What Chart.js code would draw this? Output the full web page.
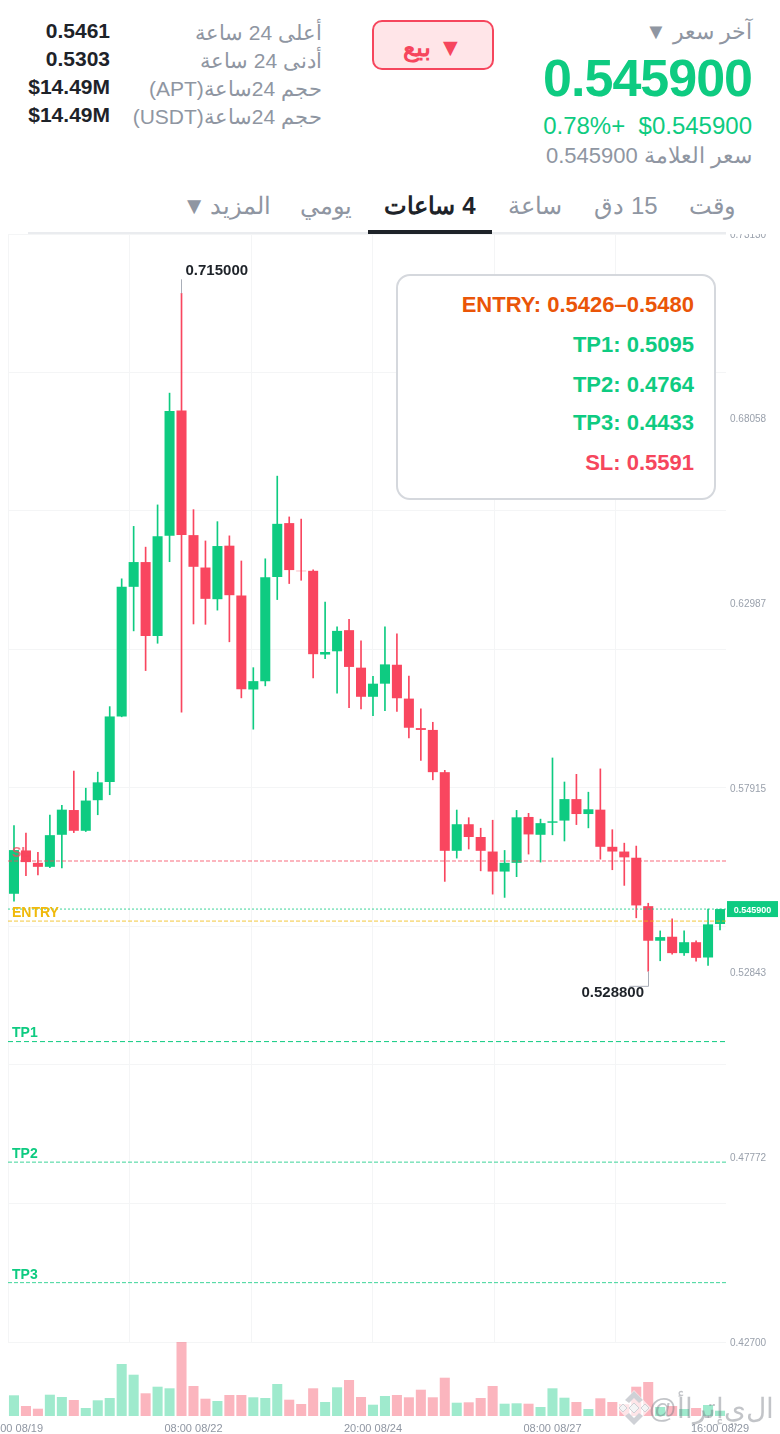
<!DOCTYPE html>
<html lang="ar">
<head>
<meta charset="utf-8">
<title>APT 4h</title>
<script src="https://cdn.jsdelivr.net/npm/chart.js@4/dist/chart.umd.min.js"></script>
<style>
  html, body { margin: 0; padding: 0; background: #fff; }
  body { position: relative; width: 780px; height: 1434px; overflow: hidden; font-family: "Liberation Sans", Arial, sans-serif; }
  canvas { position: absolute; left: 0; display: block; }
  #priceChart { top: 234px; }
  #volumeChart { top: 1342px; }
  .t { position: absolute; white-space: pre; line-height: 30px; }
  .rtl { direction: rtl; }
  .gray { color: #8f96a2; font-size: 22px; }
  .stat { font-size: 21px; right: 458px; }
  .val { color: #1e2329; font-size: 21px; font-weight: bold; right: 670px; }
  .tab { color: #8f96a2; font-size: 24px; transform: translateX(-50%); top: 191px; }
  #sell { position: absolute; left: 372px; top: 20px; width: 118px; height: 46px; border: 2px solid #f6465d; border-radius: 10px; background: #ffe5e8;
    color: #f6465d; font-size: 25px; font-weight: bold; text-align: center; line-height: 50px; direction: rtl; }
  #tabLine { position: absolute; left: 28px; top: 232px; width: 698px; height: 2px; background: #eaecef; }
  #tabActive { position: absolute; left: 368px; top: 230px; width: 124px; height: 4px; background: #1e2329; }
  #box { position: absolute; left: 396px; top: 274px; width: 316px; height: 222px; border: 2px solid #d5d8dd; border-radius: 14px; background: #fff; }
  .boxRow { position: absolute; right: 20px; font-size: 22px; font-weight: bold; line-height: 30px; white-space: pre; }
  #mark { position: absolute; right: 6px; top: 1391px; color: rgba(110,115,125,.42); font-size: 28px; line-height: 36px; direction: rtl; white-space: pre; }
  #logo { position: absolute; left: 616px; top: 1389px; }
</style>
</head>
<body>
<div class="t gray rtl" style="right:28px;top:17px">آخر سعر ▼</div>
<div class="t" style="right:28px;top:48px;line-height:60px;font-size:52px;font-weight:bold;letter-spacing:-1px;color:#0ecb81">0.545900</div>
<div class="t rtl" style="right:28px;top:111px;font-size:24px;color:#0ecb81">$0.545900&nbsp;&nbsp;+0.78%</div>
<div class="t gray rtl" style="right:28px;top:141px">سعر العلامة 0.545900</div>

<div id="sell">▼ بيع</div>

<div class="t gray stat rtl" style="top:18px">أعلى 24 ساعة</div>
<div class="t gray stat rtl" style="top:46px">أدنى 24 ساعة</div>
<div class="t gray stat rtl" style="top:74px">حجم 24ساعة(APT)</div>
<div class="t gray stat rtl" style="top:102px">حجم 24ساعة(USDT)</div>
<div class="t val" style="top:16px">0.5461</div>
<div class="t val" style="top:44px">0.5303</div>
<div class="t val" style="top:72px">$14.49M</div>
<div class="t val" style="top:100px">$14.49M</div>

<div class="t tab rtl" style="left:712px">وقت</div>
<div class="t tab rtl" style="left:626px">15 دق</div>
<div class="t tab rtl" style="left:535px">ساعة</div>
<div class="t tab rtl" style="left:430px;color:#1e2329;font-weight:bold">4 ساعات</div>
<div class="t tab rtl" style="left:326px">يومي</div>
<div class="t tab rtl" style="left:226.5px">المزيد <span style="margin-right:-3px">▼</span></div>
<div id="tabLine"></div>
<div id="tabActive"></div>

<canvas id="priceChart" width="780" height="1116"></canvas>
<canvas id="volumeChart" width="780" height="92"></canvas>

<div id="box">
  <div class="boxRow" style="top:14px;color:#ea5508">ENTRY: 0.5426–0.5480</div>
  <div class="boxRow" style="top:54px;color:#0ecb81">TP1: 0.5095</div>
  <div class="boxRow" style="top:94px;color:#0ecb81">TP2: 0.4764</div>
  <div class="boxRow" style="top:132px;color:#0ecb81">TP3: 0.4433</div>
  <div class="boxRow" style="top:172px;color:#f6465d">SL: 0.5591</div>
</div>

<svg id="logo" width="36" height="38" viewBox="0 0 36 38">
  <path d="M18 1 L35 19 L18 37 L1 19 Z" fill="rgba(255,255,255,.65)"/>
  <path d="M9 11 L18 2 L27 11 L23 14 L18 9 L13 14 Z" fill="#cfd1d6"/>
  <path d="M9 27 L18 36 L27 27 L23 24 L18 29 L13 24 Z" fill="#cfd1d6"/>
  <path d="M7 15 L11 19 L7 23 L3 19 Z M18 14 L23 19 L18 24 L13 19 Z M29 15 L33 19 L29 23 L25 19 Z" fill="#f4f4f5" stroke="#cfd1d6"/>
</svg>
<div id="mark">ال&zwnj;ي&zwnj;إ&zwnj;تراأ@</div>

<script>
const candleTimes = [
  "20:00 08/19",
  "00:00 08/20", "04:00 08/20", "08:00 08/20", "12:00 08/20", "16:00 08/20", "20:00 08/20",
  "00:00 08/21", "04:00 08/21", "08:00 08/21", "12:00 08/21", "16:00 08/21", "20:00 08/21",
  "00:00 08/22", "04:00 08/22", "08:00 08/22", "12:00 08/22", "16:00 08/22", "20:00 08/22",
  "00:00 08/23", "04:00 08/23", "08:00 08/23", "12:00 08/23", "16:00 08/23", "20:00 08/23",
  "00:00 08/24", "04:00 08/24", "08:00 08/24", "12:00 08/24", "16:00 08/24", "20:00 08/24",
  "00:00 08/25", "04:00 08/25", "08:00 08/25", "12:00 08/25", "16:00 08/25", "20:00 08/25",
  "00:00 08/26", "04:00 08/26", "08:00 08/26", "12:00 08/26", "16:00 08/26", "20:00 08/26",
  "00:00 08/27", "04:00 08/27", "08:00 08/27", "12:00 08/27", "16:00 08/27", "20:00 08/27",
  "00:00 08/28", "04:00 08/28", "08:00 08/28", "12:00 08/28", "16:00 08/28", "20:00 08/28",
  "00:00 08/29", "04:00 08/29", "08:00 08/29", "12:00 08/29", "16:00 08/29"
];
const shownTimes = ["20:00 08/19", "08:00 08/22", "20:00 08/24", "08:00 08/27", "16:00 08/29"];

const opens = [
  .5501, .5620, .5586, .5575, .5663, .5731, .5674, .5758, .5808, .5988,
  .6344, .6412, .6209, .6484, .6828, .6486, .6397, .6310, .6457, .6320,
  .6062, .6085, .6371, .6519, .6388, .6388, .6158, .6167, .6225, .6122,
  .6042, .6078, .6130, .6037, .5956, .5951, .5835, .5619, .5692, .5657,
  .5617, .5562, .5586, .5712, .5663, .5696, .5702, .5761, .5720, .5732,
  .5630, .5617, .5600, .5467, .5372, .5383, .5338, .5368, .5326, .5418
];
const closes = [
  .5621, .5588, .5575, .5662, .5732, .5674, .5757, .5807, .5988, .6344,
  .6412, .6209, .6483, .6827, .6486, .6399, .6311, .6456, .6321, .6063,
  .6085, .6370, .6517, .6390, .6387, .6159, .6165, .6223, .6124, .6042,
  .6078, .6131, .6038, .5957, .5951, .5835, .5619, .5692, .5657, .5619,
  .5562, .5586, .5711, .5664, .5695, .5700, .5761, .5720, .5733, .5630,
  .5617, .5601, .5469, .5372, .5382, .5338, .5368, .5325, .5417, .5459
];
const highs = [
  .5688, .5668, .5615, .5717, .5744, .5838, .5791, .5835, .6015, .6366,
  .6510, .6453, .6569, .6876, .7150, .6556, .6470, .6523, .6484, .6415,
  .6122, .6421, .6648, .6536, .6530, .6391, .6302, .6234, .6255, .6196,
  .6098, .6234, .6215, .6099, .6009, .5972, .5840, .5731, .5710, .5681,
  .5703, .5620, .5730, .5722, .5706, .5874, .5808, .5829, .5780, .5844,
  .5677, .5640, .5632, .5475, .5399, .5432, .5399, .5372, .5459, .5459
];
const lows = [
  .5481, .5551, .5553, .5573, .5572, .5669, .5672, .5718, .5773, .5987,
  .6223, .6114, .6189, .6413, .6000, .6242, .6241, .6280, .6193, .6039,
  .5953, .6072, .6309, .6353, .6362, .6094, .6147, .6052, .6012, .6009,
  .5990, .6004, .6002, .5929, .5867, .5814, .5535, .5599, .5624, .5564,
  .5500, .5491, .5548, .5610, .5588, .5663, .5646, .5691, .5682, .5596,
  .5567, .5524, .5435, .5288, .5317, .5335, .5332, .5316, .5304, .5402
];
const volumes = [
  20.7, 10, 7.3, 21.3, 19, 16, 8, 15.7, 18, 52,
  41.3, 22.7, 29.3, 27.7, 74, 30, 17.3, 15, 21, 21,
  18.7, 18, 32, 16.3, 12, 27.7, 14, 28.7, 36, 19,
  11.3, 20, 21, 18.7, 26.3, 18.7, 38.3, 13.3, 13.7, 18,
  30, 12.3, 12.7, 12.3, 9, 27.7, 18.3, 14, 7, 17.7,
  14, 11.7, 29.3, 34, 9, 10, 7, 8, 11, 5.3
];

const priceTicks = [0.7313, 0.68058, 0.62987, 0.57915, 0.52843, 0.47772, 0.427];
const gridPrices = [0.7313, 0.69327, 0.65523, 0.61719, 0.57915, 0.54112, 0.50308, 0.46504, 0.427];
const gridColumns = [0, 1, 2, 3, 4, 5];

const levelNames = ["SL", "ENTRY", "TP1", "TP2", "TP3"];
const levelValues = [0.5591, 0.5426, 0.5095, 0.4764, 0.4433];
const levelColors = ["#f6465d", "#f0b90b", "#0ecb81", "#0ecb81", "#0ecb81"];
const lastPrice = 0.5459;
const highPrice = 0.715;
const lowPrice = 0.5288;

const GREEN = "#0ecb81";
const RED = "#f9465f";
const columnsWide = 5.905;

const isUp = (i) => closes[i] >= opens[i];
const candleColors = opens.map((o, i) => (isUp(i) ? GREEN : RED));
const volumeColors = opens.map((o, i) => (isUp(i) ? "rgba(14,203,129,.4)" : "rgba(246,70,93,.4)"));

function flatLine(value, color, dash) {
  return {
    type: "line",
    xAxisID: "xGrid",
    yAxisID: "y",
    order: 1,
    data: [{ x: 0, y: value }, { x: columnsWide, y: value }],
    borderColor: color,
    borderWidth: 1,
    borderDash: dash,
    pointRadius: 0,
    backgroundColor: "transparent"
  };
}

function noPadding(scale) {
  scale.paddingLeft = 0;
  scale.paddingRight = 0;
  scale.paddingTop = 0;
  scale.paddingBottom = 0;
}

// level captions, high / low leaders and the last price tag
const priceMarks = {
  id: "priceMarks",
  afterDatasetsDraw(chart) {
    const { ctx, chartArea, scales } = chart;
    const y = scales.y;
    const x = scales.x;
    ctx.save();

    ctx.font = "bold 14px 'Liberation Sans', Arial, sans-serif";
    ctx.textAlign = "left";
    ctx.textBaseline = "middle";
    levelNames.forEach((name, i) => {
      ctx.fillStyle = levelColors[i];
      ctx.globalAlpha = name === "SL" ? 0.75 : 1;
      ctx.fillText(name, chartArea.left + 4, y.getPixelForValue(levelValues[i]) - 8);
    });
    ctx.globalAlpha = 1;

    ctx.font = "bold 15px 'Liberation Sans', Arial, sans-serif";
    const highX = Math.round(x.getPixelForValue(highs.indexOf(highPrice))) - 0.5;
    const highY = y.getPixelForValue(highPrice);
    ctx.strokeStyle = "#a9aeb8";
    ctx.lineWidth = 1;
    ctx.beginPath();
    ctx.moveTo(highX, highY - 14);
    ctx.lineTo(highX, highY);
    ctx.stroke();
    ctx.fillStyle = "#1e2329";
    ctx.fillText(highPrice.toFixed(6), highX + 4, highY - 22.5);

    const lowX = Math.round(x.getPixelForValue(lows.indexOf(lowPrice))) + 0.5;
    const lowY = y.getPixelForValue(lowPrice);
    ctx.beginPath();
    ctx.moveTo(lowX, lowY);
    ctx.lineTo(lowX, lowY + 15);
    ctx.lineTo(lowX - 19, lowY + 15);
    ctx.stroke();
    ctx.fillStyle = "#1e2329";
    ctx.textAlign = "right";
    ctx.fillText(lowPrice.toFixed(6), lowX - 4.5, lowY + 22);

    const tagY = y.getPixelForValue(lastPrice);
    ctx.fillStyle = GREEN;
    ctx.fillRect(chartArea.right + 1, tagY - 8, 51, 16);
    ctx.fillStyle = "#fff";
    ctx.font = "bold 9px 'Liberation Sans', Arial, sans-serif";
    ctx.textAlign = "center";
    ctx.fillText(lastPrice.toFixed(6), chartArea.right + 26.5, tagY + 1);
    ctx.restore();
  }
};

Chart.defaults.font.family = "'Liberation Sans', Arial, sans-serif";

new Chart(document.getElementById("priceChart"), {
  type: "bar",
  plugins: [priceMarks],
  data: {
    labels: candleTimes,
    datasets: [
      {
        xAxisID: "x",
        yAxisID: "y",
        order: 2,
        grouped: false,
        data: opens.map((o, i) => [o, closes[i]]),
        backgroundColor: candleColors,
        barPercentage: 0.84,
        categoryPercentage: 1
      },
      {
        xAxisID: "x",
        yAxisID: "y",
        order: 3,
        grouped: false,
        data: lows.map((l, i) => [l, highs[i]]),
        backgroundColor: candleColors,
        barThickness: 1
      },
      ...levelValues.map((v, i) => flatLine(v, levelColors[i] + (i === 2 ? "ff" : "cc"), i === 2 ? [5, 3] : [4, 2])),
      flatLine(lastPrice, GREEN + "cc", [2, 2])
    ]
  },
  options: {
    responsive: false,
    animation: false,
    events: [],
    layout: { padding: { left: 8, right: 0, top: 0, bottom: 8 } },
    plugins: { legend: { display: false }, tooltip: { enabled: false } },
    scales: {
      x: { type: "category", display: false, offset: true, grid: { display: false } },
      xGrid: {
        type: "linear",
        axis: "x",
        position: "bottom",
        offset: false,
        min: 0,
        max: columnsWide,
        border: { display: false },
        grid: { color: "#f4f5f6", drawTicks: false, offset: false },
        ticks: { display: false },
        afterBuildTicks: (scale) => { scale.ticks = gridColumns.map((v) => ({ value: v })); },
        afterFit: (scale) => { scale.height = 0; noPadding(scale); }
      },
      y: {
        type: "linear",
        position: "right",
        min: 0.427,
        max: 0.7313,
        border: { display: false },
        grid: { display: false, drawTicks: false },
        ticks: {
          color: "#9aa1ac",
          font: { size: 10 },
          padding: 4,
          labelOffset: 1,
          autoSkip: false,
          callback: (v) => Number(v).toFixed(5)
        },
        afterBuildTicks: (scale) => { scale.ticks = priceTicks.map((v) => ({ value: v })); },
        afterFit: (scale) => { scale.width = 54; noPadding(scale); }
      },
      yGrid: {
        type: "linear",
        axis: "y",
        position: "left",
        min: 0.427,
        max: 0.7313,
        border: { display: false },
        grid: { color: "#f4f5f6", drawTicks: false },
        ticks: { display: false },
        afterBuildTicks: (scale) => { scale.ticks = gridPrices.map((v) => ({ value: v })); },
        afterFit: (scale) => { scale.width = 0; noPadding(scale); }
      }
    }
  }
});

new Chart(document.getElementById("volumeChart"), {
  type: "bar",
  data: {
    labels: candleTimes,
    datasets: [{
      data: volumes,
      backgroundColor: volumeColors,
      barPercentage: 0.84,
      categoryPercentage: 1
    }]
  },
  options: {
    responsive: false,
    animation: false,
    events: [],
    layout: { padding: { left: 8, right: 54, top: 0, bottom: 0 } },
    plugins: { legend: { display: false }, tooltip: { enabled: false } },
    scales: {
      x: {
        offset: true,
        border: { display: false },
        grid: { display: false, drawTicks: false },
        ticks: {
          color: "#8f96a2",
          font: { size: 11 },
          padding: 6,
          autoSkip: false,
          maxRotation: 0,
          callback(value) {
            const label = this.getLabelForValue(value);
            return shownTimes.includes(label) ? label : "";
          }
        },
        afterFit: (scale) => { scale.height = 18; noPadding(scale); }
      },
      y: { display: false, min: 0, max: 74 }
    }
  }
});
</script>
</body>
</html>
